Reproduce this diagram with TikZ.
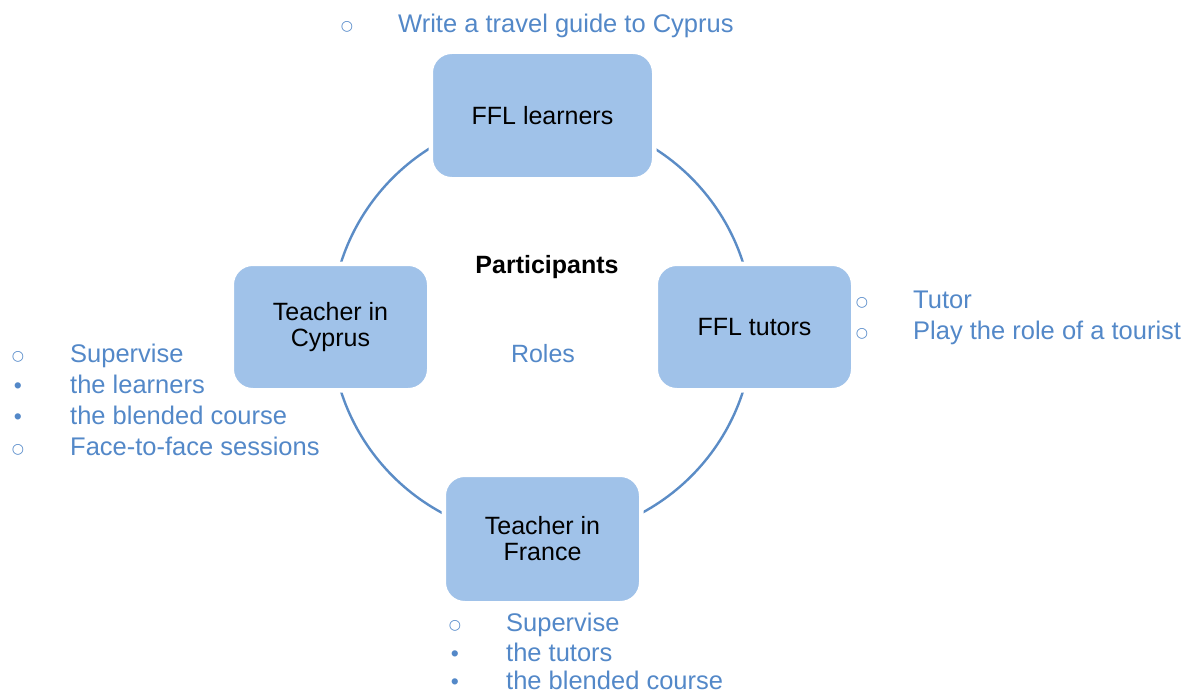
\documentclass[tikz,border=0pt]{standalone}
\usepackage{fontspec}
\setmainfont{Liberation Sans}
\newfontfamily\symfam{DejaVu Sans}
\definecolor{boxfill}{HTML}{A0C2E9}
\definecolor{ringcol}{HTML}{5B8CC6}
\definecolor{txtblue}{HTML}{5388C8}
\tikzset{
  rolebox/.style={rectangle, rounded corners=21pt, fill=boxfill, draw=white, line width=4.5pt,
    minimum width=223.5pt, minimum height=127.5pt, inner sep=0pt, align=center,
    font=\fontsize{25}{26}\selectfont, text=black},
  ring/.style={circle, draw=ringcol, line width=2.4pt, minimum size=422pt, inner sep=0pt},
  item/.style={anchor=base west, inner sep=0pt, text=txtblue, font=\fontsize{25.5}{30}\selectfont},
  obul/.style={anchor=base, inner sep=0pt, text=txtblue, font=\symfam\fontsize{14}{16}\selectfont},
  fbul/.style={anchor=base, inner sep=0pt, text=txtblue, font=\fontsize{23}{26}\selectfont},
  label/.style={anchor=base, inner sep=0pt, font=\fontsize{25}{30}\selectfont}
}
\begin{document}
\begin{tikzpicture}[x=1pt,y=-1pt]
\useasboundingbox (0,0) rectangle (1194,693);
\node[ring] (ring) at (542,327) {};
\node[rolebox] (learners) at (542.5,115.5) {FFL learners};
\node[rolebox, minimum width=197.5pt, minimum height=126.5pt] (cyprus) at (330.5,327) {Teacher in\\Cyprus};
\node[rolebox, minimum width=197.5pt, minimum height=126.5pt] (tutors) at (754.5,327) {FFL tutors};
\node[rolebox, minimum width=197.5pt, minimum height=128.5pt] (france) at (542.5,539) {Teacher in\\France};
\node[label, font=\bfseries\fontsize{25}{30}\selectfont] (participants) at (547,273) {Participants};
\node[label, text=txtblue] (roles) at (543,362) {Roles};
% top list
\node[obul] (tb1) at (347,31) {○};
\node[item] (tt1) at (398,33) {Write a travel guide to Cyprus};
% left list
\node[obul] (lb1) at (18,360) {○};
\node[item] (lt1) at (70,362) {Supervise};
\node[fbul] (lb2) at (18,393) {•};
\node[item] (lt2) at (70,393) {the learners};
\node[fbul] (lb3) at (18,424) {•};
\node[item] (lt3) at (70,424) {the blended course};
\node[obul] (lb4) at (18,453) {○};
\node[item] (lt4) at (70,455) {Face-to-face sessions};
% right list
\node[obul] (rb1) at (862,306) {○};
\node[item] (rt1) at (913,308) {Tutor};
\node[obul] (rb2) at (862,337) {○};
\node[item] (rt2) at (913,339) {Play the role of a tourist};
% bottom list
\node[obul] (bb1) at (455,629) {○};
\node[item] (bt1) at (506,631) {Supervise};
\node[fbul] (bb2) at (455,661) {•};
\node[item] (bt2) at (506,661) {the tutors};
\node[fbul] (bb3) at (455,689) {•};
\node[item] (bt3) at (506,689) {the blended course};
\end{tikzpicture}
\end{document}
